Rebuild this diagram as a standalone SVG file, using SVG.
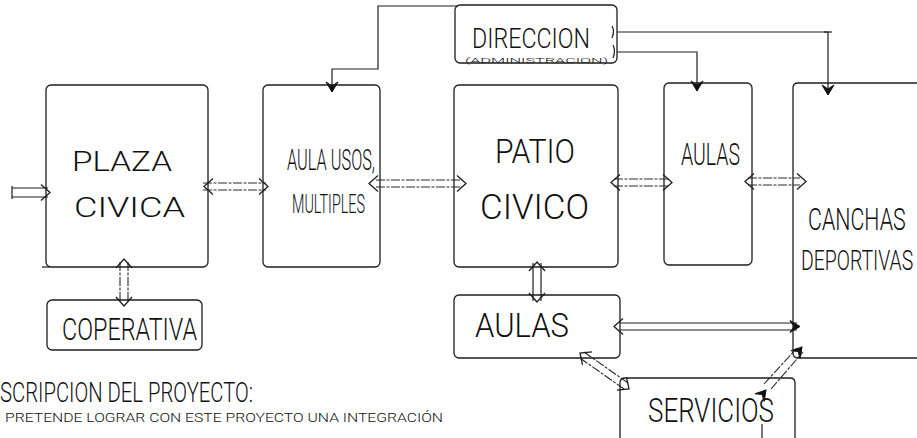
<svg xmlns="http://www.w3.org/2000/svg" width="917" height="438" viewBox="0 0 917 438">
<style>
.box{fill:none;stroke:#1e1e1e;stroke-width:1.3}
.ln{fill:none;stroke:#1e1e1e;stroke-width:1.2}
.dl{fill:none;stroke:#2a2a2a;stroke-width:1.1;stroke-dasharray:9 1.5 3 1.5}
.ax{fill:none;stroke:none}
.t{font-family:Roboto,"Liberation Sans",Arial,sans-serif;fill:#111;font-weight:300}
</style>
<defs>
<marker id="chev" viewBox="-12 -10 14 20" refX="0" refY="0" markerWidth="14" markerHeight="20" markerUnits="userSpaceOnUse" orient="auto-start-reverse">
<path d="M-9,-8 L0,0 L-9,8" fill="none" stroke="#1e1e1e" stroke-width="1.3"/>
</marker>
<marker id="fa" viewBox="-12 -7 14 14" refX="0" refY="0" markerWidth="14" markerHeight="14" markerUnits="userSpaceOnUse" orient="auto">
<path d="M-10,-6 L0,0 L-10,6 L-6,0 Z" fill="#111" stroke="#111" stroke-width="1"/>
</marker>
</defs>
<rect width="917" height="438" fill="#fff"/>

<g id="connectors">
<line class="ln" x1="12" y1="186" x2="12" y2="199"/>
<line class="ln" x1="12" y1="188" x2="48" y2="188"/>
<line class="ln" x1="12" y1="197" x2="48" y2="197"/>
<path class="ax" d="M40,192.5 L50,192.5" marker-end="url(#chev)"/>
<line class="dl" x1="203" y1="183" x2="266" y2="183"/>
<line class="dl" x1="203" y1="190" x2="266" y2="190"/>
<path class="ax" d="M204,186.5 L268,186.5" marker-start="url(#chev)" marker-end="url(#chev)"/>
<line class="dl" x1="376" y1="180" x2="462" y2="180"/>
<line class="dl" x1="376" y1="187" x2="462" y2="187"/>
<path class="ax" d="M369,183.5 L466,183.5" marker-start="url(#chev)" marker-end="url(#chev)"/>
<line class="dl" x1="614" y1="179" x2="668" y2="179"/>
<line class="dl" x1="614" y1="186" x2="668" y2="186"/>
<path class="ax" d="M611,182.5 L672,182.5" marker-start="url(#chev)" marker-end="url(#chev)"/>
<line class="dl" x1="748" y1="178" x2="800" y2="178"/>
<line class="dl" x1="748" y1="185" x2="800" y2="185"/>
<path class="ax" d="M745,181.5 L806,181.5" marker-start="url(#chev)" marker-end="url(#chev)"/>
<line class="dl" x1="120" y1="262" x2="120" y2="302"/>
<line class="dl" x1="128" y1="262" x2="128" y2="302"/>
<path class="ax" d="M124,259 L124,306" marker-start="url(#chev)" marker-end="url(#chev)"/>
<line class="ln" x1="533" y1="263" x2="533" y2="301"/>
<line class="ln" x1="541" y1="263" x2="541" y2="301"/>
<path class="ax" d="M537,275 L537,262" marker-end="url(#chev)"/>
<path class="ax" d="M537,290 L537,302" marker-end="url(#chev)"/>
<line class="ln" x1="620" y1="323" x2="797" y2="323"/>
<line class="ln" x1="620" y1="330" x2="797" y2="330"/>
<path class="ax" d="M614,326.5 L800,326.5" marker-start="url(#chev)" marker-end="url(#fa)"/>
<line class="dl" x1="584" y1="352" x2="628" y2="383"/>
<line class="dl" x1="580" y1="358" x2="624" y2="389"/>
<path class="ax" d="M580,353 L629,389" marker-start="url(#chev)" marker-end="url(#chev)"/>
<line class="dl" x1="764" y1="384" x2="797" y2="348"/>
<line class="dl" x1="771" y1="389" x2="803" y2="352"/>
<path class="ax" d="M766,390 L802,347" marker-start="url(#fa)" marker-end="url(#fa)"/>
<path class="ln" d="M458,6 L378,6 L378,69 L332,69 L332,92" marker-end="url(#fa)"/>
<path class="ln" d="M617,32 L828,32 L828,95" marker-end="url(#fa)"/>
<path class="ln" d="M617,52 L697,52 L697,91" marker-end="url(#fa)"/>
<line class="ln" x1="824" y1="32" x2="832" y2="32"/>
<path class="ln" d="M612,26 Q615,31 612,38 M613,45 Q616,51 613,58"/>
<line class="ln" x1="762" y1="424" x2="762" y2="438"/>
</g>

<g id="plaza">
<rect class="box" x="46" y="85" width="162" height="182" rx="5"/>
<line class="ln" x1="42" y1="267" x2="50" y2="267"/>
<text class="t" x="72" y="171" font-size="27" textLength="100" lengthAdjust="spacingAndGlyphs">PLAZA</text>
<text class="t" x="74" y="217" font-size="28" textLength="111" lengthAdjust="spacingAndGlyphs">CIVICA</text>
</g>

<g id="cooperativa">
<rect class="box" x="47" y="300" width="155" height="50" rx="5"/>
<text class="t" x="62" y="340" font-size="32" textLength="135" lengthAdjust="spacingAndGlyphs">COPERATIVA</text>
</g>

<g id="aula-usos">
<rect class="box" x="263" y="85" width="117" height="182" rx="5"/>
<text class="t" x="287" y="170" font-size="30" textLength="88" lengthAdjust="spacingAndGlyphs">AULA USOS,</text>
<text class="t" x="292" y="213" font-size="25" textLength="73" lengthAdjust="spacingAndGlyphs">MULTIPLES</text>
</g>

<g id="patio">
<rect class="box" x="454" y="85" width="164" height="182" rx="5"/>
<text class="t" x="495" y="163" font-size="33" textLength="80" lengthAdjust="spacingAndGlyphs">PATIO</text>
<text class="t" x="480" y="219" font-size="35" textLength="109" lengthAdjust="spacingAndGlyphs">CIVICO</text>
</g>

<g id="aulas-upper">
<rect class="box" x="664" y="83" width="88" height="182" rx="5"/>
<text class="t" x="681" y="165" font-size="31" textLength="59" lengthAdjust="spacingAndGlyphs">AULAS</text>
</g>

<g id="canchas">
<path class="box" d="M917,83 L798,83 Q793,83 793,88 L793,353 Q793,358 798,358 L917,358"/>
<text class="t" transform="translate(808,230) scale(0.69,1)" x="0" y="0" font-size="31">CANCHAS</text>
<text class="t" transform="translate(801,270) scale(0.72,1)" x="0" y="0" font-size="27">DEPORTIVAS</text>
</g>

<g id="direccion">
<rect class="box" x="455" y="5" width="162" height="58" rx="5"/>
<text class="t" x="472" y="48" font-size="28" textLength="118" lengthAdjust="spacingAndGlyphs">DIRECCION</text>
<text class="t" x="465" y="63" font-size="8" textLength="143" lengthAdjust="spacingAndGlyphs">(ADMINISTRACION)</text>
</g>

<g id="aulas-lower">
<rect class="box" x="454" y="295" width="166" height="63" rx="5"/>
<text class="t" x="475" y="337" font-size="33" textLength="94" lengthAdjust="spacingAndGlyphs">AULAS</text>
</g>

<g id="servicios">
<path class="box" d="M620,440 L620,383 Q620,378 625,378 L790,378 Q795,378 795,383 L795,440"/>
<text class="t" x="648" y="422" font-size="33" textLength="126" lengthAdjust="spacingAndGlyphs">SERVICIOS</text>
</g>

<g id="descripcion">
<text class="t" x="0" y="402" font-size="27" textLength="253" lengthAdjust="spacingAndGlyphs">SCRIPCION DEL PROYECTO:</text>
<text class="t" x="5" y="422" font-size="12" textLength="438" lengthAdjust="spacingAndGlyphs">PRETENDE LOGRAR CON ESTE PROYECTO UNA INTEGRACIÓN</text>
</g>
</svg>
